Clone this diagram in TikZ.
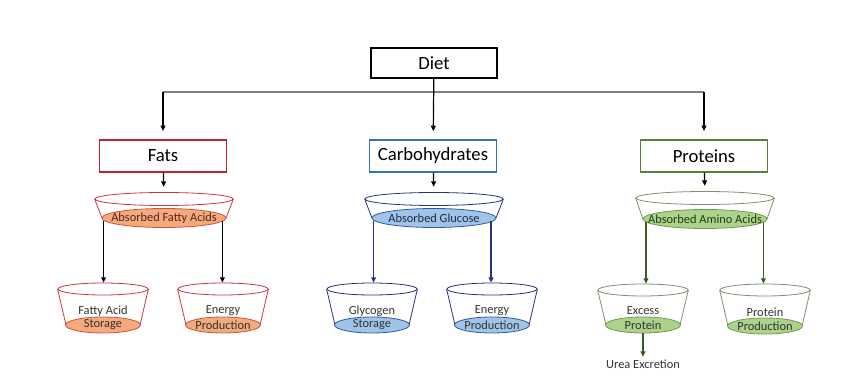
\documentclass[tikz,border=0pt]{standalone}
\usepackage{fontspec}
\setmainfont{Carlito}
\usetikzlibrary{shapes.geometric, arrows.meta, positioning}
\definecolor{fatred}{RGB}{192,32,48}
\definecolor{fatrim}{RGB}{205,55,65}
\definecolor{fatfill}{RGB}{244,170,125}
\definecolor{fatedge}{RGB}{205,85,60}
\definecolor{carbblue}{RGB}{46,117,182}
\definecolor{carbnavy}{RGB}{40,52,125}
\definecolor{carbfill}{RGB}{160,196,230}
\definecolor{carbedge}{RGB}{50,90,160}
\definecolor{protgreen}{RGB}{84,130,53}
\definecolor{protrim}{RGB}{125,145,110}
\definecolor{protfill}{RGB}{172,210,140}
\definecolor{protedge}{RGB}{110,155,80}
\definecolor{protdark}{RGB}{56,90,35}

\begin{document}
\begin{tikzpicture}[x=0.75pt, y=-0.75pt,
    box/.style={rectangle, draw, line width=1.4pt, minimum width=95.25pt, minimum height=24pt, font=\fontsize{14}{16}\selectfont},
    rim/.style={ellipse, draw, fill=white, inner sep=0pt, line width=0.6pt},
    bigrim/.style={rim, minimum width=103.5pt, minimum height=9.75pt},
    smallrim/.style={rim, minimum width=67.5pt, minimum height=9pt},
    base/.style={ellipse, draw, inner sep=0pt, line width=0.6pt},
    bigbase/.style={base, minimum width=93pt, minimum height=14.25pt},
    smallbase/.style={base, minimum width=56.25pt, minimum height=12pt},
    bowltext/.style={font=\fontsize{9.3}{10}\selectfont, inner sep=0pt, text=black!80},
    arrow/.style={-{Triangle[length=4pt, width=3.6pt]}, line width=0.9pt}
]
\useasboundingbox (0,0) rectangle (854,384);

% top level
\node[box, minimum width=94.5pt, minimum height=22.5pt] (diet) at (434,63) {Diet};
\node[box, draw=fatred] (fats) at (163,156) {Fats};
\node[box, draw=carbblue] (carbs) at (433,156) {Carbohydrates};
\node[box, draw=protgreen] (prots) at (704,156) {Proteins};

\coordinate (split) at (434,92);
\draw[black!50, line width=1pt] (fats.north |- split) -- (prots.north |- split);
\draw[arrow, shorten >=6pt] (fats.north |- split) -- (fats);
\draw[arrow, shorten >=6pt] (diet) -- (carbs);
\draw[arrow, shorten >=6pt] (prots.north |- split) -- (prots);

% fats
\node[bigrim, draw=fatrim] (fatrim) at (164,199) {};
\node[smallrim, draw=fatrim] (fsrim) at (103,289) {};
\node[smallrim, draw=fatrim] (ferim) at (223,289) {};
\draw[fatrim, line width=0.6pt] (fatrim.west) -- (164-62,218) (fatrim.east) -- (164+62,218);
\draw[fatrim, line width=0.6pt] (fsrim.west) -- (103-37,325) (fsrim.east) -- (103+37,325);
\draw[fatrim, line width=0.6pt] (ferim.west) -- (223-37,325) (ferim.east) -- (223+37,325);
\node[bigbase, draw=fatedge, fill=fatfill] (fatbase) at (164,218) {};
\node[smallbase, draw=fatedge, fill=fatfill] (fsbase) at (103,325) {};
\node[smallbase, draw=fatedge, fill=fatfill] (febase) at (223,325) {};
\node[bowltext, text={rgb,255:red,80;green,40;blue,30}] (fattext) at (fatbase) {Absorbed Fatty Acids};
\node[bowltext] (fstop) at (103,311) {Fatty Acid};
\node[bowltext] (fsbot) at (fsbase) {Storage};
\node[bowltext] (fetop) at (223,311) {Energy};
\node[bowltext] (febot) at (febase) {Production};
\coordinate (fatout1) at ([xshift=1.5pt, yshift=-2pt]fatbase.west);
\coordinate (fatout2) at ([xshift=-3pt, yshift=-2pt]fatbase.east);
\draw[arrow, shorten >=4pt] (fats) -- (fatrim);
\draw[arrow] (fatout1) -- (fatout1 |- fsrim.north);
\draw[arrow] (fatout2) -- (fatout2 |- ferim.north);

% carbohydrates
\node[bigrim, draw=carbnavy] (carbrim) at (434,199) {};
\node[smallrim, draw=carbnavy] (gsrim) at (372,289) {};
\node[smallrim, draw=carbnavy] (cerim) at (492,289) {};
\draw[carbnavy, line width=0.6pt] (carbrim.west) -- (434-62,218) (carbrim.east) -- (434+62,218);
\draw[carbnavy, line width=0.6pt] (gsrim.west) -- (372-37,325) (gsrim.east) -- (372+37,325);
\draw[carbnavy, line width=0.6pt] (cerim.west) -- (492-37,325) (cerim.east) -- (492+37,325);
\node[bigbase, draw=carbedge, fill=carbfill] (carbbase) at (434,218) {};
\node[smallbase, draw=carbedge, fill=carbfill] (gsbase) at (372,325) {};
\node[smallbase, draw=carbedge, fill=carbfill] (cebase) at (492,325) {};
\node[bowltext, text={rgb,255:red,30;green,40;blue,80}] (carbtext) at (carbbase) {Absorbed Glucose};
\node[bowltext] (gstop) at (372,311) {Glycogen};
\node[bowltext] (gsbot) at (gsbase) {Storage};
\node[bowltext] (cetop) at (492,311) {Energy};
\node[bowltext] (cebot) at (cebase) {Production};
\coordinate (carbout1) at ([xshift=1.5pt, yshift=-2pt]carbbase.west);
\coordinate (carbout2) at ([xshift=-4pt, yshift=-2pt]carbbase.east);
\draw[arrow, shorten >=4pt] (carbs) -- (carbrim);
\draw[arrow, carbnavy] (carbout1) -- (carbout1 |- gsrim.north);
\draw[arrow, carbnavy] (carbout2) -- (carbout2 |- cerim.north);

% proteins
\node[bigrim, draw=protrim] (protrim) at (705,198) {};
\node[smallrim, draw=protrim] (eprim) at (643,290) {};
\node[smallrim, draw=protrim] (pprim) at (765,290) {};
\draw[protrim, line width=0.6pt] (protrim.west) -- (705-62,219) (protrim.east) -- (705+62,219);
\draw[protrim, line width=0.6pt] (eprim.west) -- (643-37,325) (eprim.east) -- (643+37,325);
\draw[protrim, line width=0.6pt] (pprim.west) -- (765-37,326) (pprim.east) -- (765+37,326);
\node[bigbase, draw=protedge, fill=protfill] (protbase) at (705,219) {};
\node[smallbase, draw=protedge, fill=protfill] (epbase) at (643,325) {};
\node[smallbase, draw=protedge, fill=protfill] (ppbase) at (765,326) {};
\node[bowltext, text={rgb,255:red,30;green,60;blue,20}] (prottext) at (protbase) {Absorbed Amino Acids};
\node[bowltext] (eptop) at (643,311) {Excess};
\node[bowltext] (epbot) at (epbase) {Protein};
\node[bowltext] (pptop) at (765,312) {Protein};
\node[bowltext] (ppbot) at (ppbase) {Production};
\coordinate (protout1) at ([xshift=2.5pt, yshift=-2pt]protbase.west);
\coordinate (protout2) at ([xshift=-3pt, yshift=-2pt]protbase.east);
\draw[arrow, shorten >=4pt] (prots) -- (protrim);
\draw[arrow, protdark] (protout1) -- (protout1 |- eprim.north);
\draw[arrow, protdark] (protout2) -- (protout2 |- pprim.north);

\node[bowltext, inner sep=2pt] (urea) at (643,364) {Urea Excretion};
\draw[arrow, protdark] (epbase) -- (urea);
\end{tikzpicture}
\end{document}
